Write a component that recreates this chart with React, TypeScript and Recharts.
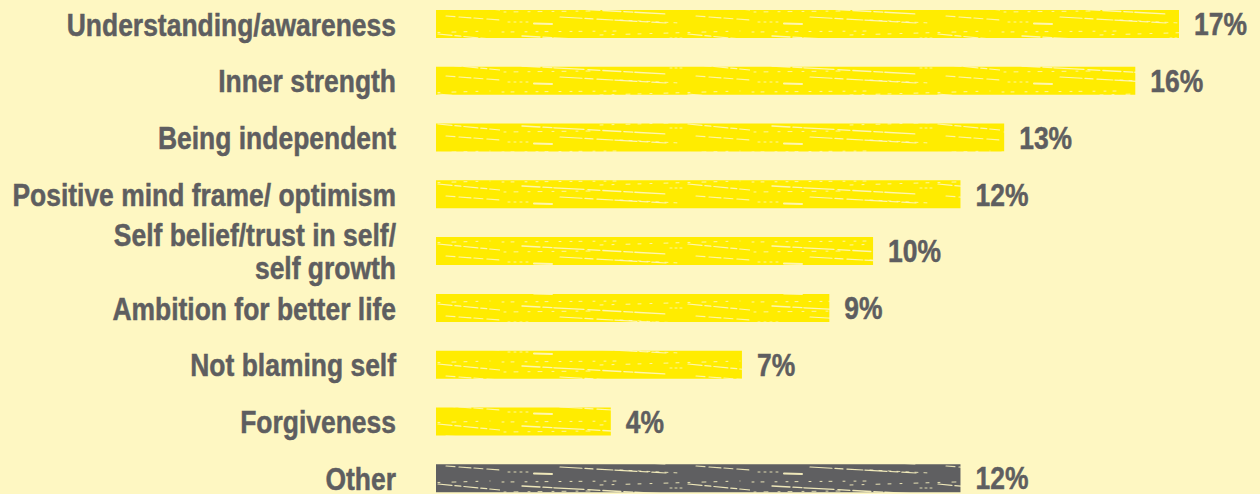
import React from 'react';
import { BarChart, Bar, XAxis, YAxis, Cell, LabelList } from 'recharts';

const categories = [
  'Understanding/awareness',
  'Inner strength',
  'Being independent',
  'Positive mind frame/ optimism',
  'Self belief/trust in self/\nself growth',
  'Ambition for better life',
  'Not blaming self',
  'Forgiveness',
  'Other',
];
const values = [17, 16, 13, 12, 10, 9, 7, 4, 12];
const valueLabels = ['17%', '16%', '13%', '12%', '10%', '9%', '7%', '4%', '12%'];
const isOther = [false, false, false, false, false, false, false, false, true];

const BG = '#FEF7C2';
const YELLOW = '#FFEC00';
const GREY = '#5F5F61';
const TEXT = '#5E5E60';
const FONT = '"Liberation Sans", Arial, sans-serif';
const FS = 31.5;
const SX = 0.84;

const data = categories.map((c, i) => ({ name: c, value: values[i], label: valueLabels[i] }));

const CategoryTick = (props: any) => {
  const { x, y, payload } = props;
  const lines = String(payload.value).split('\n');
  const lh = 33;
  const y0 = y - ((lines.length - 1) * lh) / 2 + FS * 0.358;
  return (
    <g transform={`translate(${x},0) scale(${SX},1)`}>
      <text
        textAnchor="end"
        fill={TEXT}
        stroke={TEXT}
        strokeWidth={0.5}
        fontFamily={FONT}
        fontWeight="bold"
        fontSize={FS}
      >
        {lines.map((l, i) => (
          <tspan key={i} x={0} y={y0 + i * lh}>
            {l}
          </tspan>
        ))}
      </text>
    </g>
  );
};

const ValueLabel = (props: any) => {
  const { x, y, width, height, value } = props;
  const tx = Number(x) + Number(width) + 15;
  const ty = Number(y) + Number(height) / 2 + FS * 0.358;
  return (
    <g transform={`translate(${tx},0) scale(${SX},1)`}>
      <text
        x={0}
        y={ty}
        textAnchor="start"
        fill={TEXT}
        stroke={TEXT}
        strokeWidth={0.5}
        fontFamily={FONT}
        fontWeight="bold"
        fontSize={FS}
      >
        {value}
      </text>
    </g>
  );
};

const Streaks = ({ color }: { color: string }) => (
  <g stroke={color} fill="none" strokeLinecap="round">
    <path d="M22 10 L166 18" strokeWidth={1.3} strokeDasharray="18 3 9 2 30 4 12 3" opacity={0.9} />
    <path d="M60 21 L166 27" strokeWidth={1.2} strokeDasharray="22 3 8 4 16 2" opacity={0.9} />
    <path d="M188 8 L250 14" strokeWidth={1.2} strokeDasharray="14 3 6 3" opacity={0.9} />
    <path d="M196 20 L250 24" strokeWidth={1.1} strokeDasharray="9 4 12 3" opacity={0.85} />
    <path d="M2 6 L120 5" strokeWidth={1} strokeDasharray="2 7 3 11 2 9" opacity={0.85} />
    <path d="M100 9 L240 5" strokeWidth={1} strokeDasharray="3 9 2 12 4 8" opacity={0.85} />
    <path d="M4 16 L90 15" strokeWidth={1} strokeDasharray="2 8 4 10" opacity={0.8} />
    <path d="M34 27.5 L52 28" strokeWidth={2} opacity={0.9} />
    <path d="M8 26 L30 26" strokeWidth={1} strokeDasharray="2 4" opacity={0.8} />
    <path d="M170 12 L185 12" strokeWidth={1} strokeDasharray="2 3" opacity={0.8} />
    <path d="M120 24 L180 27" strokeWidth={1} strokeDasharray="3 6" opacity={0.8} />
  </g>
);

export default function App() {
  return (
    <div
      style={{
        position: 'absolute',
        left: 0,
        top: 0,
        width: 1260,
        height: 494,
        overflow: 'hidden',
        background: BG,
      }}
    >
      <div style={{ position: 'absolute', left: 0, top: -4 }}>
        <BarChart
          width={1260}
          height={511}
          data={data}
          layout="vertical"
          margin={{ top: 0, right: 81, bottom: 0, left: 0 }}
          barCategoryGap={0}
        >
          <defs>
            <pattern id="texYellow" patternUnits="userSpaceOnUse" width={250} height={30}>
              <rect x={0} y={0} width={250} height={30} fill={YELLOW} />
              <Streaks color={BG} />
            </pattern>
            <pattern id="texGrey" patternUnits="userSpaceOnUse" width={250} height={30}>
              <rect x={0} y={0} width={250} height={30} fill={GREY} />
              <Streaks color={BG} />
            </pattern>
          </defs>
          <XAxis type="number" domain={[0, 17]} hide />
          <YAxis
            type="category"
            dataKey="name"
            width={436}
            axisLine={false}
            tickLine={false}
            tickSize={0}
            tickMargin={40}
            interval={0}
            tick={<CategoryTick />}
          />
          <Bar dataKey="value" barSize={28} isAnimationActive={false}>
            {data.map((d, i) => (
              <Cell key={d.name} fill={isOther[i] ? 'url(#texGrey)' : 'url(#texYellow)'} />
            ))}
            <LabelList dataKey="label" content={<ValueLabel />} />
          </Bar>
        </BarChart>
      </div>
    </div>
  );
}
